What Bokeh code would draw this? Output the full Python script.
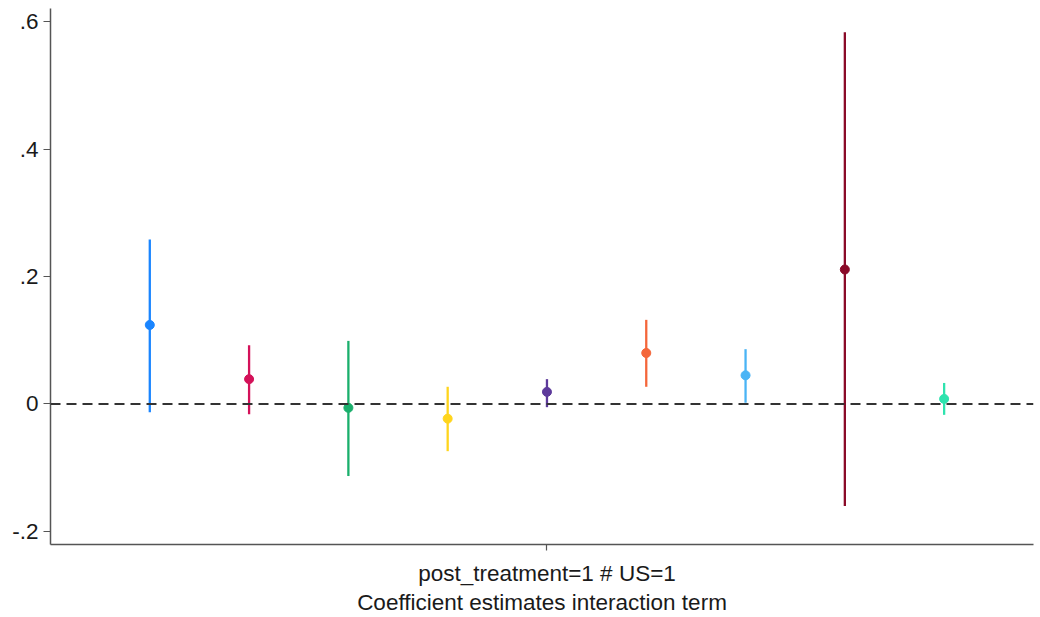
from bokeh.plotting import figure
from bokeh.models import Range1d, FixedTicker, CustomJSTickFormatter, Span, ColumnDataSource
from bokeh.embed import file_html
from bokeh.resources import INLINE

# Data
offsets = [-4, -3, -2, -1, 0, 1, 2, 3, 4]
estimates = [0.124, 0.039, -0.006, -0.023, 0.019, 0.080, 0.045, 0.211, 0.008]
lower = [-0.013, -0.016, -0.113, -0.074, -0.005, 0.027, 0.002, -0.160, -0.017]
upper = [0.258, 0.092, 0.099, 0.027, 0.039, 0.132, 0.086, 0.583, 0.033]
colors = ["#1a85ff", "#d41159", "#1aaf6c", "#ffd51c", "#5d3a9b",
          "#f4663a", "#4ab4f5", "#8a0a28", "#2ee3ae"]
y_ticks = [-0.2, 0, 0.2, 0.4, 0.6]
x_ticks = [0]
x_tick_labels = ["post_treatment=1 # US=1"]
x_title = "Coefficient estimates interaction term"

FONT = "Liberation Sans"
FS = "22.5px"

p = figure(width=1040, height=617, output_backend="svg", toolbar_location=None,
           x_range=Range1d(-5.0, 4.9), y_range=Range1d(-0.2204, 0.6204),
           min_border_left=50, min_border_right=7, min_border_top=8, min_border_bottom=0)
p.outline_line_color = None
p.xgrid.visible = False
p.ygrid.visible = False
p.background_fill_color = "white"
p.border_fill_color = "white"

src = ColumnDataSource(dict(x=offsets, y=estimates, lo=lower, hi=upper, c=colors))

p.add_layout(Span(location=0, dimension="width", line_color="#333333",
                  line_width=2, line_dash="10 6"))
p.segment(x0="x", y0="lo", x1="x", y1="hi", source=src, line_color="c", line_width=2.3)
p.scatter(x="x", y="y", source=src, size=9, fill_color="c", line_color="c", marker="circle")

# y axis
ya = p.yaxis[0]
ya.ticker = FixedTicker(ticks=y_ticks)
ya.formatter = CustomJSTickFormatter(code="""
    if (Math.abs(tick) < 1e-9) return "0";
    return tick.toFixed(1).replace("0.", ".");
""")
ya.major_label_orientation = "horizontal"
ya.major_label_text_font = FONT
ya.major_label_text_font_size = FS
ya.major_label_text_color = "#1a1a1a"
ya.major_label_standoff = 5
ya.major_tick_out = 7
ya.major_tick_in = 0
ya.minor_tick_line_color = None
ya.axis_line_color = "#555555"
ya.axis_line_width = 1.5
ya.major_tick_line_color = "#555555"
ya.major_tick_line_width = 1.2

# x axis
xa = p.xaxis[0]
xa.ticker = FixedTicker(ticks=x_ticks)
xa.major_label_overrides = {x_ticks[0]: x_tick_labels[0]}
xa.major_label_text_font = FONT
xa.major_label_text_font_size = FS
xa.major_label_text_color = "#1a1a1a"
xa.major_label_standoff = 10
xa.major_tick_out = 6
xa.major_tick_in = 0
xa.minor_tick_line_color = None
xa.axis_line_color = "#555555"
xa.axis_line_width = 1.5
xa.major_tick_line_color = "#555555"
xa.major_tick_line_width = 1.2
xa.axis_label = x_title
xa.axis_label_text_font = FONT
xa.axis_label_text_font_size = FS
xa.axis_label_text_font_style = "normal"
xa.axis_label_text_color = "#1a1a1a"
xa.axis_label_standoff = 1

open("out.html", "w").write(file_html(p, INLINE))
